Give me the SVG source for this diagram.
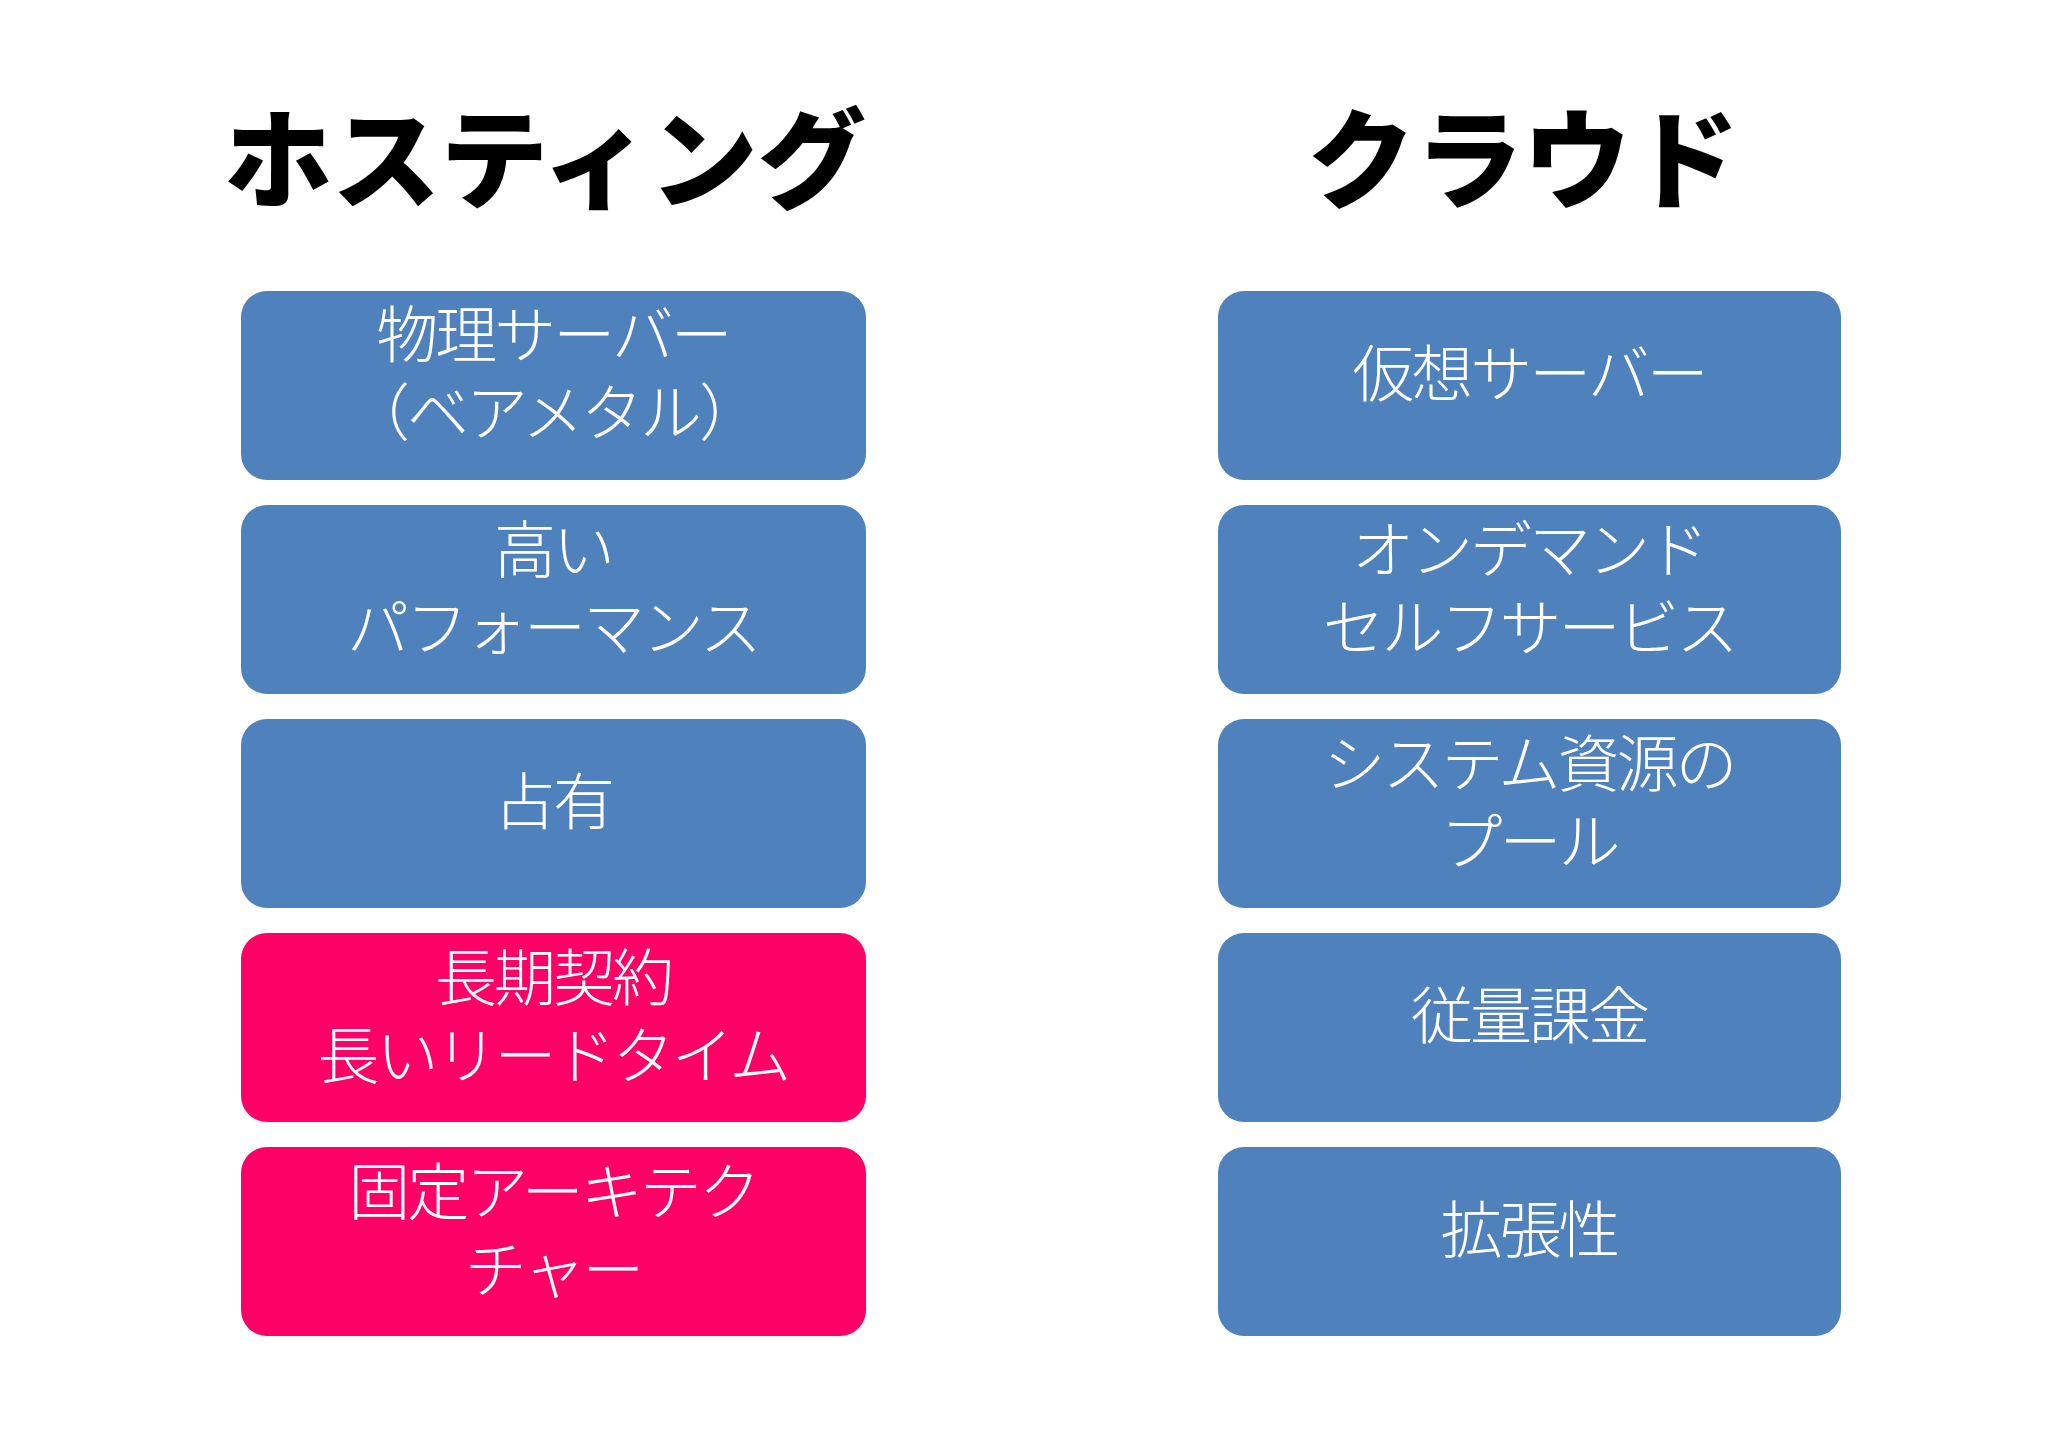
<svg xmlns="http://www.w3.org/2000/svg" width="2048" height="1448" viewBox="0 0 2048 1448">
<style>
.h{font-family:"Noto Sans CJK JP",sans-serif;font-weight:900;font-size:108px;fill:#000;text-anchor:middle}
.t{font-family:"Noto Sans CJK JP",sans-serif;font-weight:300;font-size:62px;letter-spacing:-3px;fill:#fff;text-anchor:middle}
.b{fill:#4F81BD}.p{fill:#FF0066}
</style>
<rect width="2048" height="1448" fill="#fff"/>
<text class="h" x="545" y="200">ホスティング</text>
<text class="h" x="1523" y="200">クラウド</text>
<g id="n1"><rect class="b" x="241" y="291" width="625" height="189" rx="26"/><text class="t" x="553" y="358">物理サーバー</text><text class="t" x="553" y="436">（ベアメタル）</text></g>
<g id="n2"><rect class="b" x="241" y="505" width="625" height="189" rx="26"/><text class="t" x="553" y="573">高い</text><text class="t" x="553" y="651">パフォーマンス</text></g>
<g id="n3"><rect class="b" x="241" y="719" width="625" height="189" rx="26"/><text class="t" x="553" y="825">占有</text></g>
<g id="n4"><rect class="p" x="241" y="933" width="625" height="189" rx="26"/><text class="t" x="553" y="1001">長期契約</text><text class="t" x="553" y="1079">長いリードタイム</text></g>
<g id="n5"><rect class="p" x="241" y="1147" width="625" height="189" rx="26"/><text class="t" x="553" y="1215">固定アーキテク</text><text class="t" x="553" y="1293">チャー</text></g>
<g id="m1"><rect class="b" x="1218" y="291" width="623" height="189" rx="26"/><text class="t" x="1529" y="397">仮想サーバー</text></g>
<g id="m2"><rect class="b" x="1218" y="505" width="623" height="189" rx="26"/><text class="t" x="1529" y="573">オンデマンド</text><text class="t" x="1529" y="651">セルフサービス</text></g>
<g id="m3"><rect class="b" x="1218" y="719" width="623" height="189" rx="26"/><text class="t" x="1529" y="787">システム資源の</text><text class="t" x="1529" y="865">プール</text></g>
<g id="m4"><rect class="b" x="1218" y="933" width="623" height="189" rx="26"/><text class="t" x="1529" y="1039">従量課金</text></g>
<g id="m5"><rect class="b" x="1218" y="1147" width="623" height="189" rx="26"/><text class="t" x="1529" y="1253">拡張性</text></g>
<g id="connectors"/>
</svg>
